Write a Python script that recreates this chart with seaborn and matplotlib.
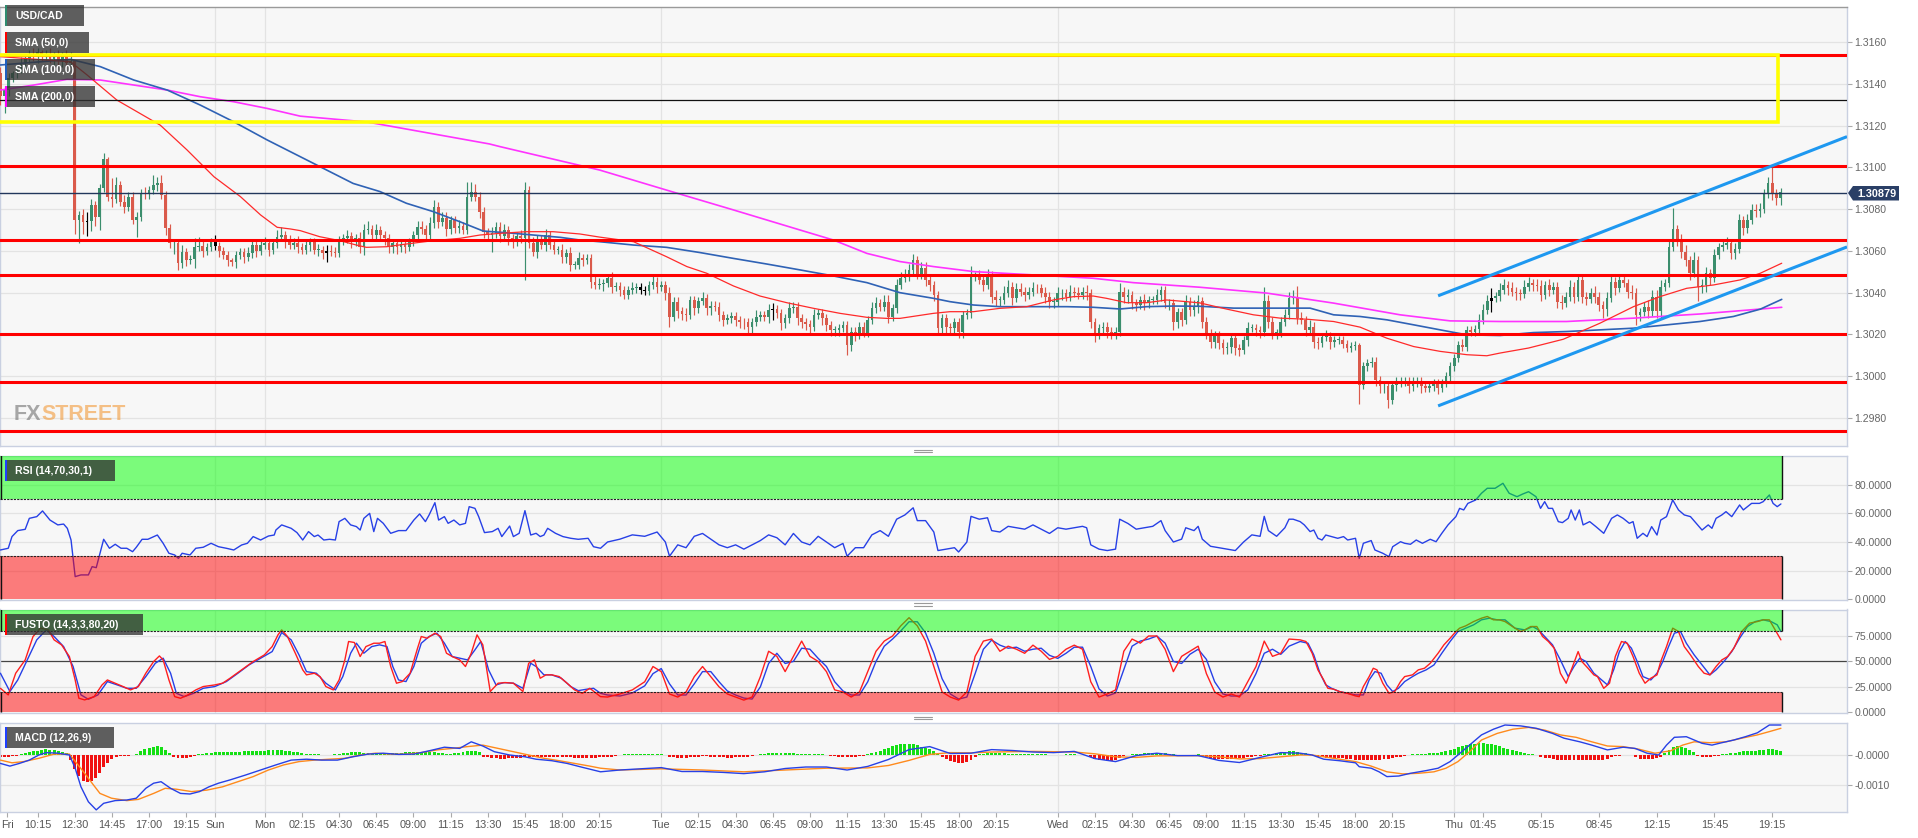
import numpy as np
import pandas as pd
import matplotlib
matplotlib.use("Agg")
import matplotlib.pyplot as plt
import seaborn as sns
from matplotlib.patches import Rectangle, Polygon

# ---------------------------------------------------------------- data
BASE = 1.3000
PIP = 0.0001
first_open_pips = 145

# closes of the 15-minute USD/CAD candles, pips above 1.3000 (bar 0 = Fri 08:00)
close_pips = [
    134,137,143,145,147,150,152,154,153,155,153,154,152,154,151,153,150,151,75,77,74,74.5,82,76,
    90,104,86,85,91.5,83.6,81.2,86,74.8,76.4,87.5,87,89,91.5,92.3,86.7,70.8,63.6,63.6,54,59.6,55.7,56,62,
    62.5,60,62,64.4,62.3,60,58,55.7,54.8,58,59.6,57.2,58.8,62.8,60,62.8,63.6,60.4,63.6,66.8,67.6,64.4,63,64,
    62,60.5,62.8,64.4,60.5,60.5,58.9,60,59.7,58.9,64.9,66,67.2,64.4,66,62,70,70.3,67.6,70,67.6,66,62,63.6,
    61.7,63.3,62,64.4,67.6,71.3,70.3,67.6,73.2,81.2,74,75.6,70.3,74.8,70.8,72,70,86,88,86,78.8,69.2,67.6,68.4,
    71.6,67.2,70,66,64.4,67.2,66,89.2,63.6,59.7,64.4,63,67.6,62.8,60.5,60.5,57.3,59,53.3,53.3,56.5,55.7,56.5,45.3,
    43.7,44,44.5,46.9,42.9,43,41.3,38.9,41.3,42,42.5,41.3,41,43.7,45.3,42.9,43.7,39.7,28.5,35.7,31,29.8,29.3,36.5,
    32.5,36,37.3,32.5,33.8,33.3,29.3,26.9,27.7,28.8,26.9,26,25.8,23.8,26.1,28.5,29.3,28.5,31.7,32,30.1,25.3,27.7,32.5,
    33.3,27.7,26.1,25,23.8,29.3,30.1,27.7,24.5,22.2,22.2,23,24.5,15,21.4,19.8,23.8,20.6,26.9,32.5,34.9,33.3,35.7,28.5,
    32.5,43.7,46.9,48.5,50.9,55.6,48.5,51.6,46.1,43.7,38.9,23,27.7,23.7,23,26.1,21.4,29.3,30.1,47.7,47.7,46.1,43.7,48.5,
    38.1,36.5,36.5,40,42.9,37.3,41.6,40.5,38.9,40.5,42.1,42,39.7,38.1,35.7,35.7,39.7,39.7,38,40.5,39.7,38.9,40.5,39.7,
    26.1,20.6,22.9,23.8,21.4,20.6,21.4,40.5,38,38.9,35,34,36.5,34.9,36.5,36.5,38.9,41.3,34.9,34.9,26.1,30.9,26.9,35.7,
    31.7,33.3,35.8,26.2,20.6,16.6,19.8,15.8,13.5,14.2,18.2,13.4,12.6,17.4,23,23,22.2,21.4,35.8,26.2,20.6,20.6,26.2,29.4,
    37.4,37.4,27.8,27,22.2,23.8,16.6,15.8,18.7,19,16.2,17.4,17.4,15.5,13.4,14.5,15,-4.1,4.7,6.3,7,-1.7,-4.9,-4.9,
    -11.3,-4.1,-3.3,-2.5,-2.5,-4.9,-3.3,-2.5,-4.9,-5.7,-4.9,-3.3,-5.7,-3.3,-0.1,4.7,8.7,15,14.2,22.2,21.4,22.5,27,31.8,
    35.8,37.4,38.2,41.4,43.7,42.1,40.5,39.7,39.5,42.9,44.5,43.7,43,38.9,43.7,41.3,42.9,35.7,35,38.1,42.9,38.1,46.1,38.1,
    37,40,38.1,34.1,32,37.3,45.3,42.1,46,44.5,40.5,40,29.3,30.9,33.3,31,38.1,31,42.9,44.5,62,70.3,65.2,59.7,
    55.7,49.3,55.7,42.9,43.5,49.3,46.9,58.1,62,62.8,63.6,58.9,61,74.8,70.8,74.8,79.6,79,80,87.5,92.3,87.5,85.2,88,
]
# wick lengths above / below the candle body, pips
upper_wick = [
    3,2,2,1,2,3,2,2,3,2,1,2,3,1,2,2,3,4,0,2,3,4,3,2,
    2,3,1,9,4,2,3,2,2,2,2,3,2,5,3,4,2,2,1,2,3,2,2,4,
    4,2,2,2,3,2,2,2,1,2,2,2,3,2,2,2,3,2,2,3,4,2,3,2,
    3,2,2,2,2,3,2,3,3,2,2,2,3,2,2,3,3,4,2,3,2,2,2,2,
    2,2,2,2,2,3,3,2,3,3,2,3,3,2,2,3,2,7,5,4,2,2,2,3,
    2,2,3,2,2,2,3,4,2,3,3,3,3,2,3,2,3,2,3,2,3,2,2,2,
    3,3,2,2,3,2,2,2,2,3,2,2,2,2,3,2,2,2,3,2,2,2,3,2,
    2,2,3,2,2,2,2,2,2,2,2,2,2,2,2,3,2,2,3,3,2,2,2,3,
    2,2,2,2,2,3,2,2,2,2,2,2,2,2,2,2,2,2,2,3,3,2,3,3,
    2,3,3,3,3,3,2,3,3,2,2,2,2,2,2,2,2,2,2,5,2,3,2,3,
    2,3,2,3,3,2,3,3,2,2,3,2,2,3,2,2,3,2,2,3,2,3,2,3,
    2,2,2,2,2,2,2,4,2,3,2,2,2,3,2,2,3,2,2,2,2,2,2,3,
    2,3,3,2,2,2,2,2,2,2,2,2,2,2,3,2,2,2,7,3,2,2,2,3,
    3,4,6,3,2,3,2,2,2,3,2,2,2,2,2,2,2,1,2,2,2,2,2,2,
    2,2,3,2,2,2,3,2,2,2,2,2,2,2,2,2,2,2,3,2,2,2,3,3,
    3,5,2,3,3,2,3,2,2,3,3,2,3,3,2,3,2,2,3,2,3,2,3,2,
    2,2,3,2,2,3,3,2,3,3,2,3,2,2,2,3,3,3,3,2,3,10,2,3,
    3,2,4,2,3,3,2,3,2,3,3,2,3,3,2,3,3,3,3,2,3,8,2,2,
]
lower_wick = [
    4,8,3,2,2,2,3,2,2,3,2,2,2,3,2,3,2,2,7,11,6,7,5,4,
    6,2,2,4,2,2,3,2,2,8,2,2,2,2,3,2,3,2,5,3,2,3,2,4,
    2,3,2,2,2,3,2,3,2,3,2,3,2,2,3,2,2,3,2,2,2,3,2,2,
    3,2,2,3,2,3,3,4,2,2,2,2,2,3,2,3,4,2,3,2,2,3,3,3,
    3,2,3,2,2,2,2,3,2,2,3,2,3,2,2,2,2,2,2,2,3,3,3,8,
    2,3,2,3,3,2,2,20,2,2,3,2,3,2,2,2,3,3,3,2,2,3,2,3,
    2,2,3,2,3,2,3,2,2,2,2,2,2,2,2,3,2,3,5,2,3,3,3,2,
    3,2,2,3,3,2,3,3,2,2,3,3,3,3,3,2,2,2,3,5,2,3,2,2,
    2,3,3,3,3,2,2,3,3,3,3,3,2,5,3,3,2,2,2,2,2,2,2,3,
    2,2,2,2,3,3,2,2,3,3,3,3,3,3,3,3,3,3,2,2,2,2,3,2,
    3,3,3,2,2,3,2,2,3,2,2,2,2,3,3,3,2,3,2,2,2,2,2,3,
    3,4,3,3,3,3,3,2,3,3,3,3,2,3,2,2,2,3,2,3,4,3,3,2,
    3,3,3,3,3,3,3,3,3,3,3,3,3,2,3,2,3,3,2,3,3,3,2,2,
    2,3,3,2,3,2,3,3,2,2,3,2,2,2,2,2,2,9,2,2,2,3,3,3,
    4,2,3,2,2,3,2,2,3,2,2,2,3,2,2,2,2,2,2,2,2,2,2,2,
    2,5,2,2,2,3,2,3,3,2,2,3,2,3,2,3,2,3,3,2,2,3,2,3,
    3,2,3,3,4,3,2,3,2,2,3,3,5,3,2,3,2,3,3,2,2,2,3,3,
    3,3,2,7,3,3,3,2,2,2,2,3,3,2,3,2,2,3,3,2,2,3,3,3,
]
doji_bars = [21, 52, 79, 155, 156, 187, 361]

# moving averages: (bar, pips above 1.3000)
sma50 = [(0,153),(17,150.5),(21,144.2),(28.2,132.2),(38.7,120.2),(45.2,108.3),(51.7,95.5),(58.1,86),(63,77.2),
         (67,71.3),(70.2,70.5),(72.6,69.7),(77.3,66.8),(82.2,64.9),(86.2,62.8),(88.6,61.7),(93.5,62),(98.3,63.3),
         (104.8,64.9),(111.2,66),(116.1,67.6),(120.9,68.4),(127.4,69.2),(133.8,69.2),(140.3,68.1),(145.1,66.6),
         (153.3,64.4),(161.3,57.2),(166.2,52.5),(171,49.3),(177.5,43.2),(183.9,38.4),(190.4,35.2),(196.9,32.5),
         (203.3,30.1),(209.8,28.2),(214.6,27.7),(217.8,27.7),(225.9,30.1),(229.9,30.9),(235.6,30.9),(242,32.5),
         (248.5,33.3),(254.9,36.5),(259.8,38.1),(264.6,38.4),(267.8,37.3),(272.7,35.2),(277.5,35.2),(282.4,36.5),
         (287.2,35.7),(290.4,35.1),(297,32.1),(303.4,29.4),(309.9,27.8),(316.3,27.3),(322.8,26.2),(329.2,23.5),
         (335.7,18.2),(342.2,14.2),(348.6,11.9),(355.1,10.3),(359.9,9.8),(363.1,11.1),(370,13.5),(378.4,17.7),
         (387.3,25.4),(395.4,33.3),(401.8,38.1),(408.3,42.1),(414.8,43.7),(421.2,46.1),(426.1,49.3),(431.3,54.1)]
sma100 = [(0,149),(17,151.7),(24.2,148.2),(32.3,141.8),(40.4,137),(48.4,129.8),(56.5,121.8),(64.6,113.1),
          (72.6,105.1),(79,98.7),(85.4,92.3),(91.9,88.4),(98.3,82.8),(104.8,78.8),(111.2,74),(116.9,69.5),
          (122.5,68.7),(129,67.6),(135.5,66.5),(140.3,65.2),(145.1,64.4),(153.3,62.8),(161.3,61.7),(169.4,59.2),
          (177.5,56.4),(185.6,53.7),(193.6,50.9),(201.7,48),(209.8,44.8),(217.8,40),(225.9,37.3),(229.9,35.7),
          (235.6,34.1),(242,33.3),(250.1,33.3),(258.2,33.3),(264.6,33),(271.1,32.2),(277.5,33.3),(284,33.6),
          (290.4,33.5),(298.6,32.6),(306.6,32.6),(317.1,32.6),(322.8,29.4),(329.2,28.6),(335.7,27),(342.2,24.6),
          (348.6,22.2),(355.1,19.8),(363.1,19.5),(371.2,20.9),(379.2,21.4),(387.3,22.2),(395.4,23),(403.5,24.6),
          (411.5,26.2),(419.6,28.6),(426.1,32.1),(431.3,36.8)]
sma200 = [(0,137),(8.1,139.4),(16.1,142.1),(24.2,141.8),(32.3,139.4),(40.4,137),(48.4,133.8),(56.5,131.4),
          (64.6,128.2),(72.6,124.5),(88.8,121.7),(118.4,111.2),(121,109.9),(145.1,98.7),(161.3,89.1),(177.5,79.6),
          (193.6,70),(201.7,65.2),(209.8,58.8),(217.8,54.9),(225.9,52.5),(235.6,50.1),(250.1,48.5),(264.6,46.9),
          (274.3,44.8),(290.4,42.6),(306.6,39.8),(322.8,35),(338.9,29.4),(351,26.5),(363.1,26.2),(379.2,26.2),
          (395.4,27.8),(411.5,29.8),(431.3,33)]

# drawn levels
support_resistance = [1.31538, 1.31008, 1.30651, 1.30487, 1.30204, 1.29970, 1.29740]
black_level = 1.31322
last_price = 1.30879
zone_low, zone_high, zone_end = 1.31218, 1.31538, 430.3
channel_x = [348.1, 447.1]
channel_upper = [1.30385, 1.31147]
channel_lower = [1.29858, 1.30619]

# RSI (14)
rsi = [(0,34.4),(1.9,35.6),(2.8,43.8),(4.2,48),(6.0,48.9),(7.0,56.6),(8.8,57.8),(10.2,61.8),(12.0,55.4),(13.9,52),
       (15.3,52.6),(16.2,49.6),(17.1,41.4),(18.1,15.7),(19.5,16.9),(21.3,16.9),(22.2,22.7),(23.2,22),(23.9,29.7),
       (25.0,41.9),(26.4,35.6),(27.8,38.4),(29.2,35.6),(30.6,35.6),(32.0,33.2),(32.9,36.3),(34.3,41.9),(35.7,41.9),
       (38.0,44.9),(39.4,39.1),(40.8,32.1),(42.2,30.9),(43.1,28.5),(44.0,32.1),(45.9,30.9),(47.3,35.6),(49.1,36.3),
       (51.0,39.1),(52.8,36.7),(54.7,35.6),(56.5,34.4),(58.4,37.9),(59.8,39.1),(61.2,43.8),(63.0,41.4),(64.9,44.2),
       (66.3,44.9),(66.7,48.4),(68.1,52),(70.4,49.6),(71.8,46.6),(73.2,41.4),(74.6,47.3),(76.0,43.8),(76.9,44.9),
       (78.3,41.4),(79.7,41.9),(81.1,41.4),(82.0,54.3),(83.4,56.6),(84.8,52),(86.2,50.8),(87.1,48.4),(88.0,56.6),
       (89.4,60.1),(90.4,47.3),(91.3,56.6),(92.7,53.1),(94.5,46.1),(96.4,48),(98.2,48),(100.1,55.4),(101.5,59.7),
       (102.9,54.3),(103.8,59),(105.2,67.6),(106.1,55.4),(107.5,57.8),(108.4,53.1),(109.8,55.4),(111.2,52),
       (112.6,53.1),(113.5,64.8),(114.9,63.6),(115.8,57.8),(117.2,46.6),(119.1,47.3),(120.5,49.6),(121.4,43.8),
       (123.3,51.2),(124.2,43.8),(125.6,46.1),(127.0,62),(128.4,44.9),(129.7,46.1),(130.7,43.8),(131.6,44.9),
       (132.5,49.6),(134.4,46.1),(136.2,43.8),(138.1,42.6),(139.9,41.9),(142.3,42.6),(143.6,36.7),(145.3,35.6),
       (147,40),(150,42),(153,45),(156,44),(159,47),(161,40),(162,30),(164,38),(166,36),(168,44),(170,46),(172,42),
       (174,38),(176,36),(178,38),(180,35),(182,38),(184,41),(186,45),(188,43),(190,38),(192,46),(194,40),(196,38),
       (198,44),(200,40),(202,36),(204,39),(205,30),(207,36),(209,36),(211,45),(213,48),(215,44),(217,56),(219,59),
       (221,64),(222,55),(224,55),(226,47),(227,34),(229,35),(231,36),(232,33),(234,40),(235,58),(237,56),(239,57),
       (240,48),(242,47),(244,51),(246,50),(248,49),(250,52),(252,49),(254,46),(256,50),(258,49),(260,50),(262,51),
       (263,50),(264,38),(266,35),(268,34),(270,35),(271,56),(273,53),(275,49),(277,50),(279,51),(281,55),(282,48),
       (284,40),(286,42),(287,50),(289,48),(290,51),(291,42),(293,37),(295,36),(297,35),(299,34),(301,40),(303,45),
       (305,44),(306,58),(307,48),(309,44),(311,50),(312,56),(313,56),
       (314.7,54.3),(315.7,52),(317.1,47.3),(318.0,48.4),(319.0,42.6),(320.0,41.4),(320.9,44.9),(322.3,43.8),
       (323.8,42.6),(325.2,43.8),(326.2,41.4),(328.1,42.6),(329.0,28.5),(330.0,39.1),(331.9,41),(332.8,34.4),
       (334.7,32.1),(336.2,29.7),(337.1,36.7),(339.0,40.2),(340.0,39.1),(341.4,38.4),(342.8,41.4),(344.3,39.1),
       (346.2,41.9),(347.6,40.2),(349.0,46.1),(350.5,52),(352.4,57.8),(353.3,63.6),(354.3,62.5),(355.3,67.1),
       (357.2,69.5),(358.6,74.2),(360.0,77.7),(361.9,77.7),(363.8,81.2),(365.3,74.2),(367.2,71.8),(368.6,73.7),
       (370.0,75.3),(371.8,71.8),(372.9,63.6),(373.9,68.3),(374.8,63.6),(375.8,63.6),(377.2,54.3),(378.2,53.6),
       (379.6,56.6),(380.3,62.5),(381.3,55.4),(382.3,62.5),(383.2,52),(384.8,54.3),(386.3,50.8),(388.2,46.1),
       (390.1,56.6),(391.5,59),(392.9,56.6),(394.4,53.1),(395.3,54.3),(396.3,42.6),(397.7,46.1),(398.7,43.8),
       (399.8,50.8),(401.1,44.9),(402.0,55.4),(403.4,57.8),(404.9,69.5),(406.3,62.5),(407.7,59),(409.2,57.8),
       (410.6,53.1),(412.0,48.4),(413.5,52),(414.4,49.6),(415.4,56.6),(416.8,59),(417.8,61.3),(419.2,57.8),
       (421.1,66),(422.0,62.5),(424.0,67.1),(425.9,67.1),(426.8,68.3),(428.3,73),(429.2,67.1),(430.2,64.8),(431.1,66.7)]

# Full stochastic (14,3,3): fast (red) and slow (blue)
stoch_fast = [(0,23.6),(1.9,17.1),(3.7,38.4),(6.0,51.5),(7.9,74.5),(9.7,82.7),(11.6,81),(13.0,71.2),(14.8,66.3),
       (16.7,54.8),(18.1,31.8),(19.0,13.8),(20.4,12.2),(22.7,15.4),(24.6,26.9),(25.9,31.8),(27.8,28.6),(29.7,25.3),
       (31.5,22),(33.4,25.3),(35.2,38.4),(37.1,49.9),(38.5,55.4),(39.4,51.5),(40.8,31.8),(42.2,15.4),(43.6,13.8),
       (45.4,17.1),(47.3,22),(49.1,25.3),(51.9,26.9),(53.8,28.6),(55.6,33.5),(58.4,41.7),(61.2,49.9),(63.9,56.4),
       (65.8,64.6),(67.2,76.1),(68.1,81),(69.5,74.5),(71.4,58.1),(73.2,41.7),(74.1,36.8),(76.0,38.4),(77.4,35.1),
       (78.8,25.3),(80.6,22),(82.0,31.8),(83.4,51.5),(84.3,69.6),(85.7,68.6),(87.1,54.8),(88.5,64.6),(90.4,67.9),
       (91.8,67.9),(93.1,69.6),(94.5,45),(95.9,28.6),(97.3,30.2),(99.2,38.4),(101.0,63),(101.9,74.5),(103.3,72.8),
       (105.2,77.8),(106.6,74.5),(108.0,58.1),(109.4,54.8),(111.2,51.5),(112.6,45),(114.0,58.1),(115.4,76.1),
       (116.8,66.3),(118.6,20.4),(120.5,28.6),(122.3,29.2),(124.2,28.6),(126.5,20.4),(127.9,48.2),(129.3,51.5),
       (130.7,33.5),(132.1,36.8),(133.5,36.8),(135.3,35.1),(137.2,28.6),(139.0,22),(140.9,18.7),(142.7,23.6),
       (145.3,15.4),
       (147,15),(150,18),(153,22),(156,30),(158,45),(160,40),(162,18),(164,15),(166,20),(168,35),(170,45),(172,35),
       (174,25),(176,18),(178,15),(180,12),(182,15),(184,35),(186,60),(188,55),(190,40),(192,55),(194,70),(196,55),
       (198,50),(200,40),(202,22),(204,20),(206,15),(208,20),(210,40),(212,60),(214,70),(216,75),(218,85),(220,93),
       (222,85),(224,70),(226,45),(228,20),(230,15),(232,12),(234,20),(236,55),(238,70),(240,72),(242,60),(244,65),
       (246,62),(248,58),(250,66),(252,60),(254,52),(256,55),(258,62),(260,66),(262,62),(264,30),(266,15),(268,18),
       (270,22),(272,60),(274,72),(276,68),(278,75),(280,75),(282,62),(284,40),(286,55),(288,60),(290,65),(292,38),
       (294,20),(296,15),(298,18),(300,15),(302,30),(304,45),(306,70),(308,55),(310,58),(312,72),
       (314.7,71.2),(316.1,69.6),(317.6,58.1),(319.0,41.7),(320.4,31.8),(321.4,23.6),(322.8,22.7),(324.2,20.4),
       (326.1,18.7),(328.1,16.1),(329.0,15.4),(330.0,25.3),(331.4,35.1),(332.4,43.3),(333.3,41.7),(334.7,28.6),
       (336.2,18.7),(337.6,20.4),(339.0,30.2),(340.0,35.1),(341.9,36.8),(343.3,41.7),(344.8,43.3),(346.2,48.2),
       (348.1,58.1),(349.5,66.3),(351.0,72.8),(352.4,79.4),(353.3,82.7),(354.8,85),(356.7,89.2),(358.6,92.5),
       (360.0,94.2),(361.5,90.9),(362.9,90.9),(364.3,89.2),(366.7,82.7),(368.1,79.4),(369.1,81),(370.5,84.3),
       (372.0,84.3),(373.4,74.5),(374.8,69.6),(376.2,63),(377.7,38.4),(379.1,28.6),(380.5,43.3),(382.0,59.7),
       (382.9,49.9),(384.4,43.3),(385.8,36.8),(386.7,35.1),(388.2,23.6),(389.6,28.6),(391.0,54.8),(392.5,69.6),
       (393.9,67.9),(395.3,54.8),(396.8,38.4),(398.2,28.6),(399.6,33.5),(401.1,36.8),(402.0,49.9),(403.4,64.6),
       (404.9,82.7),(406.3,79.4),(407.7,64.6),(409.2,56.4),(411.1,45),(412.5,38.4),(413.9,36.8),(415.4,45),
       (416.8,51.5),(418.2,54.8),(419.7,63),(421.6,79.4),(423.5,87.6),(425.4,89.2),(426.8,90.9),(428.3,90.9),
       (429.7,81),(431.1,71.2)]
stoch_slow = [(0,38.4),(2.3,20.4),(4.2,31.8),(6.5,51.5),(8.8,71.2),(11.1,81),(13.0,74.5),(15.3,64.6),(17.6,45),
       (19.5,17.1),(21.3,12.8),(23.6,17.1),(25.9,30.2),(28.3,26.9),(30.6,23.6),(32.9,23.6),(35.2,35.1),(37.5,48.2),
       (39.4,53.2),(41.2,38.4),(42.6,18.7),(44.5,15.4),(46.8,18.7),(49.1,23.6),(51.9,25.3),(54.7,30.2),(57.5,38.4),
       (60.2,46.6),(63.0,53.2),(65.8,59.7),(68.1,78.4),(70.4,71.2),(72.3,56.4),(74.1,40),(76.5,38.4),(78.8,28.6),
       (81.1,22),(82.9,35.1),(84.8,58.1),(86.2,67.9),(88.0,58.1),(89.9,64.6),(91.8,66.3),(93.6,64.6),(95.0,45),
       (96.4,31.8),(98.2,30.2),(100.1,45),(101.9,67.9),(103.8,74.5),(105.7,77.8),(107.5,67.9),(109.4,54.8),
       (111.2,53.2),(113.1,51.5),(114.9,61.4),(116.3,69.6),(118.2,41.7),(120.0,26.9),(121.9,29.2),(124.2,28.6),
       (126.5,23.6),(128.4,48.2),(129.7,45),(131.6,36.8),(133.5,36.8),(135.8,33.5),(138.1,25.3),(139.9,21.3),
       (141.8,22.6),(143.6,23.6),(145.3,18.7),
       (147,17),(150,16),(153,19),(156,26),(158,38),(160,43),(162,28),(164,17),(166,17),(168,28),(170,40),(172,40),
       (174,30),(176,21),(178,17),(180,14),(182,13),(184,25),(186,48),(188,58),(190,48),(192,50),(194,63),(196,62),
       (198,53),(200,45),(202,30),(204,21),(206,17),(208,17),(210,30),(212,50),(214,65),(216,72),(218,80),(220,89),
       (222,89),(224,78),(226,58),(228,33),(230,18),(232,13),(234,15),(236,38),(238,62),(240,71),(242,66),(244,63),
       (246,64),(248,60),(250,62),(252,63),(254,56),(256,53),(258,58),(260,64),(262,64),(264,45),(266,23),(268,16),
       (270,19),(272,42),(274,65),(276,70),(278,72),(280,75),(282,68),(284,50),(286,48),(288,57),(290,62),(292,52),
       (294,30),(296,18),(298,16),(300,16),(302,22),(304,38),(306,58),(308,62),(310,57),(312,65),
       (314.7,69.6),(316.6,67.9),(318.0,56.4),(319.5,38.4),(320.9,26.9),(322.3,23.6),(324.2,20.4),(326.1,18.7),
       (328.1,17.1),(330.0,17.1),(331.4,31.8),(332.8,40),(334.3,38.4),(335.7,26.9),(337.1,20.4),(338.5,23.6),
       (340.0,30.2),(341.9,35.1),(343.3,38.4),(345.2,41.7),(347.1,46.6),(349.0,58.1),(351.0,69.6),(352.9,79.4),
       (354.8,82.7),(356.7,86),(358.6,90.9),(360.5,92.5),(362.4,90.9),(364.3,90.9),(366.7,82.7),(369.1,81),
       (371.0,84.3),(372.4,81),(373.9,74.5),(375.8,66.3),(377.7,51.5),(379.6,35.1),(381.0,45),(382.4,53.2),
       (383.9,49.9),(385.8,38.4),(387.7,31.8),(389.1,26.9),(390.6,41.7),(392.0,59.7),(393.4,69.6),(394.9,63),
       (396.3,49.9),(397.7,35.1),(399.6,31.8),(401.1,38.4),(402.5,49.9),(403.9,64.6),(405.3,77.8),(406.8,79.4),
       (408.2,67.9),(410.1,56.4),(412.0,46.6),(413.9,36.8),(415.4,41.7),(417.3,49.9),(419.2,59.7),(421.1,72.8),
       (423.0,84.3),(424.9,89.2),(426.8,90.9),(428.7,89.2),(430.2,86),(431.1,79.4)]

# MACD (12,26,9), units of 0.0001
macd_line = [(0,-2.8),(2.3,-3.7),(4.6,-2.8),(7.0,-1.7),(9.3,0),(11.1,0.8),(13.9,0.6),(16.7,0),(18.1,-4.4),
       (19.5,-10.6),(21.3,-15.6),(23.2,-18.3),(25.0,-16.1),(27.8,-15.2),(30.6,-15),(32.9,-14.4),(35.2,-11.1),
       (37.1,-9.4),(38.9,-8.9),(41.2,-11.1),(43.6,-12.8),(45.9,-13),(48.2,-12.2),(50.5,-10.6),(52.8,-9.4),
       (55.6,-8.3),(59.3,-6.7),(63.0,-5),(66.7,-3.3),(70.4,-1.7),(74.1,-1.4),(77.8,-1.7),(81.6,-1.7),(85.3,-0.6),
       (89.0,0.3),(92.7,0.6),(96.4,0.2),(100.1,0.3),(103.8,1.4),(107.5,2.6),(111.2,2.2),(114.0,4.4),(116.8,3),
       (119.6,1.1),(123.3,0),(127.0,-0.6),(129.7,-1.4),(133.5,-1.9),(137.2,-2.8),(140.9,-4.1),(145.3,-5.6),
       (150,-5),(160,-4.2),(165,-5.5),(170,-5.5),(175,-5.8),(180,-6.2),(185,-5.6),(190,-4.5),(195,-4.0),(200,-4.0),
       (205,-5.0),(210,-3.8),(215,-1.5),(220,1.8),(225,2.8),(230,0.5),(235,0.6),(240,1.8),(245,1.5),(250,1.0),
       (255,0.8),(260,1.2),(265,-1.2),(270,-2.2),(275,-0.2),(280,0.6),(285,-0.2),(290,-0.2),(295,-1.8),(300,-2.5),
       (305,-0.8),(310,0.8),
       (314.7,0.6),(317.6,0),(320.4,-1.4),(324.2,-1.9),(328.1,-2.6),(329.0,-3.9),(331.9,-4.4),(333.8,-5.6),
       (335.7,-7.2),(338.6,-7),(341.4,-6.1),(345.2,-5.2),(348.1,-4.4),(351.0,-2.2),(352.9,0),(355.7,3.3),
       (358.6,6.7),(361.5,8.6),(364.3,10),(368.1,9.7),(371.9,8.9),(375.8,7.2),(378.6,5.6),(382.4,4.4),(385.3,3.3),
       (389.1,1.7),(392.9,2.6),(395.8,2.2),(398.7,0.6),(401.5,0),(403.4,3.3),(405.3,5.9),(408.2,6.1),(410.1,5),
       (412.0,3.9),(414.4,3.3),(416.8,4.1),(419.7,5),(422.5,6.1),(425.4,7.4),(428.3,10),(431.1,10)]
macd_signal = [(0,-1.7),(2.8,-2.6),(5.6,-2.2),(9.3,-1.1),(13.0,0.3),(16.7,0.3),(18.5,-2.8),(20.4,-6.1),
       (22.2,-9.4),(24.1,-12.8),(26.9,-14.4),(30.6,-15.2),(33.4,-14.8),(37.1,-12.8),(39.9,-11.1),(42.6,-11.4),
       (46.3,-12.2),(50.0,-11.7),(53.8,-10.6),(57.5,-8.9),(61.2,-7.2),(64.9,-5),(68.6,-3.3),(72.3,-2.2),(76.0,-1.7),
       (79.7,-1.4),(83.4,-1.1),(87.1,0),(90.8,0.6),(94.5,0.3),(98.2,0.3),(101.9,0.8),(105.7,1.7),(109.4,2.2),
       (113.1,2.8),(116.8,3.3),(120.5,2.2),(124.2,1.1),(127.9,0),(131.6,-1.1),(135.3,-1.9),(139.0,-2.8),
       (142.7,-3.7),(145.3,-4.4),
       (150,-5.0),(160,-4.6),(170,-5.0),(180,-5.6),(190,-5.0),(200,-4.4),(210,-4.3),(215,-3.5),(220,-1.8),(225,0.2),
       (230,0.8),(235,0.7),(240,1.0),(250,1.2),(260,1.0),(265,0.4),(270,-0.6),(275,-0.8),(280,-0.3),(290,-0.2),
       (295,-0.6),(300,-1.3),(305,-1.2),(310,-0.6),
       (314.7,0),(317.6,0),(320.4,-0.6),(324.2,-1.4),(328.1,-2.2),(331.9,-3.7),(335.7,-5.6),(339.5,-6.3),
       (343.3,-6.1),(347.1,-5.6),(350.0,-4.4),(352.9,-2.2),(355.7,1.1),(358.6,5),(362.4,7.2),(366.2,8.6),
       (370.0,9.2),(373.9,8.3),(377.7,6.7),(381.5,5.9),(385.3,4.4),(389.1,3),(392.9,2.8),(396.8,1.9),(400.6,0.6),
       (404.4,1.4),(407.3,3.3),(410.1,4.4),(413.9,4.1),(417.8,4.4),(421.6,5.6),(425.4,6.7),(428.3,7.8),(431.1,8.9)]
macd_hist = [
    -0.8,-0.7,-0.6,-0.4,-0.2,
    0.3,0.6,0.9,1.2,1.5,1.7,1.9,1.8,1.6,1.4,1.1,0.6,
    -1.5,-4.5,-7.0,-8.5,-9.0,-8.8,-7.5,-6.0,-4.0,-2.5,-1.2,
    -0.6,-0.4,-0.3,-0.2,-0.1,
    0.5,1.2,2.0,2.5,2.8,3.0,2.6,1.6,0.6,
    -0.6,-0.9,-1.0,-0.9,-0.7,-0.4,
    0.2,0.4,0.6,0.8,0.9,1.0,1.0,1.0,1.1,1.1,1.1,1.2,1.2,1.2,1.3,1.4,1.5,1.6,1.7,1.7,
    1.6,1.5,1.3,1.1,0.9,0.7,0.5,0.4,0.3,0.2,0.1,0.1,0.1,
    0.3,0.5,0.6,0.8,0.9,1.0,0.9,0.8,0.8,0.7,0.6,0.5,
    0.4,0.5,0.6,0.7,0.8,0.9,1.0,1.0,1.1,1.1,1.0,0.9,0.9,0.8,0.7,0.5,0.4,0.6,0.8,1.0,1.3,1.5,1.4,1.0,
    -0.5,-0.8,-1.0,-1.1,-1.2,-1.2,-1.1,-1.0,-1.0,-0.9,-0.6,
    -0.5,-0.6,-0.7,-0.8,-0.8,-0.8,-0.8,-0.8,-0.8,-0.8,-0.8,-0.9,-0.9,-0.9,-0.9,-0.9,-0.9,-0.8,
    -0.8,-0.7,-0.5,-0.3,-0.1,0.2,0.4,0.5,0.5,0.4,0.3,0.3,0.4,0.4,0.3,0.1,-0.5,-0.8,-1.0,-1.0,
    -0.9,-0.7,-0.6,-0.5,-0.4,-0.4,-0.5,-0.6,-0.7,-0.8,-0.9,-0.9,-0.8,-0.7,-0.6,-0.5,-0.3,-0.1,0.2,0.4,
    0.6,0.7,0.8,0.8,0.7,0.6,0.6,0.5,0.4,0.3,0.2,0.2,0.3,0.2,0.0,-0.2,-0.4,-0.5,-0.6,-0.8,
    -0.7,-0.6,-0.4,-0.2,0.2,0.6,1.0,1.5,2.0,2.5,3.0,3.4,3.6,3.8,3.8,3.6,3.2,2.8,2.4,2.0,
    1.4,0.4,-0.6,-1.4,-2.0,-2.4,-2.6,-2.5,-2.2,-1.6,-0.6,0.2,0.5,0.7,0.8,0.7,0.6,0.6,0.5,0.5,
    0.4,0.4,0.3,0.3,0.3,0.3,0.2,0.2,0.1,0.0,0.1,0.1,0.2,0.2,0.2,0.1,0.1,0.0,-0.6,-1.2,
    -1.6,-1.8,-1.9,-1.9,-1.7,-0.9,-0.4,-0.1,0.2,0.4,0.5,0.6,0.6,0.6,0.7,0.8,0.6,0.5,0.2,0.1,
    0.0,0.1,0.1,0.1,0.2,-0.3,-0.7,-1.0,-1.2,-1.3,-1.4,-1.4,-1.3,-1.2,-1.1,-0.9,-0.7,-0.5,-0.4,-0.3,
    0.3,0.4,0.5,0.6,0.8,1.0,1.2,1.2,1.1,
    0.8,0.6,0.3,
    -0.4,-0.6,-0.8,-0.9,-1.0,-1.0,-1.1,-1.1,-1.2,-1.4,-1.6,-1.7,-1.7,-1.7,-1.6,-1.6,-1.5,-1.4,-1.2,-1.0,
    -0.7,-0.5,-0.3,-0.1,
    0.2,0.3,0.4,0.5,0.6,0.7,0.8,1.0,1.3,1.7,2.1,2.6,3.0,3.3,3.6,3.8,3.9,3.9,3.8,3.6,3.3,3.0,2.5,2.0,1.6,1.2,
    0.9,0.6,0.4,0.2,0.1,
    -0.6,-0.9,-1.1,-1.3,-1.5,-1.6,-1.7,-1.7,-1.6,-1.6,-1.5,-1.5,-1.6,-1.7,-1.8,-1.6,-1.2,-0.8,-0.4,
    -0.2,-0.1,-0.1,-0.1,
    -0.8,-1.2,-1.4,-1.4,-1.3,-1.1,-0.6,
    0.8,1.8,2.6,3.0,2.8,2.2,1.6,0.9,
    -0.3,-0.6,-0.7,-0.6,-0.4,-0.2,
    0.3,0.5,0.6,0.8,1.0,1.2,1.3,1.4,1.5,1.6,1.8,2.1,2.0,1.8,1.5,
]

# time axis
tick_bars = [1.6, 9, 18, 27, 36, 45, 52, 64, 73, 82, 91, 100, 109, 118, 127, 136, 145,
             160, 169, 178, 187, 196, 205, 214, 223, 232, 241,
             256, 265, 274, 283, 292, 301, 310, 319, 328, 337,
             352, 359, 373, 387, 401, 415, 429]
tick_text = ['Fri', '10:15', '12:30', '14:45', '17:00', '19:15', 'Sun',
             'Mon', '02:15', '04:30', '06:45', '09:00', '11:15', '13:30', '15:45', '18:00', '20:15',
             'Tue', '02:15', '04:30', '06:45', '09:00', '11:15', '13:30', '15:45', '18:00', '20:15',
             'Wed', '02:15', '04:30', '06:45', '09:00', '11:15', '13:30', '15:45', '18:00', '20:15',
             'Thu', '01:45', '05:15', '08:45', '12:15', '15:45', '19:15']
day_bars = [52, 64, 160, 256, 352]
price_ticks = [1.2980, 1.3000, 1.3020, 1.3040, 1.3060, 1.3080, 1.3100, 1.3120, 1.3140, 1.3160]

# ---------------------------------------------------------------- style
sns.set_theme(style="white")
plt.rcParams['font.family'] = ['Liberation Sans', 'DejaVu Sans']

W, H = 1918, 838
fig = plt.figure(figsize=(W / 100, H / 100), dpi=100)
fig.patch.set_facecolor('white')

XL = (-0.1, 447.1)
FILL_END = 431.4
GRID = '#e3e3e3'
FRAME = '#c9d0e1'
LBL = '#666666'
UP, DN = '#3b8e6d', '#da5a4b'


def fx(x):
    return x / W


def fy(y):
    return 1 - y / H


def add_panel(top, bottom):
    ax = fig.add_axes([0, fy(bottom), 1847 / W, (bottom - top) / H])
    ax.set_facecolor('#f7f7f7')
    for s in ax.spines.values():
        s.set_color(FRAME)
        s.set_linewidth(1.0)
    ax.set_xlim(*XL)
    ax.tick_params(axis='x', bottom=False, labelbottom=False, top=False)
    ax.tick_params(axis='y', left=False, labelleft=False, right=True, labelright=True,
                   length=3.5, width=0.8, color='#aaaaaa', labelsize=7.6, labelcolor=LBL, pad=2)
    for d in day_bars:
        ax.axvline(d, color=GRID, lw=0.9, zorder=0)
    return ax


def pts_frame(pts, scale=1.0, offset=0.0):
    a = np.array(pts, dtype=float)
    return pd.DataFrame({'x': a[:, 0], 'y': offset + a[:, 1] * scale})


def draw_line(ax, pts, color, lw, z, scale=1.0, offset=0.0):
    sns.lineplot(data=pts_frame(pts, scale, offset), x='x', y='y', ax=ax, color=color,
                 linewidth=lw, estimator=None, sort=True, zorder=z)
    ax.set_xlabel('')
    ax.set_ylabel('')


# ---------------------------------------------------------------- main price panel
ax = add_panel(7, 446)
ax.spines['top'].set_color('#9a9a9a')
ax.set_ylim(1.296660, 1.317676)
ax.set_yticks(price_ticks)
ax.set_yticklabels([f'{t:.4f}' for t in price_ticks])
for t in price_ticks:
    ax.axhline(t, color=GRID, lw=0.9, zorder=0)

n = min(len(close_pips), len(upper_wick), len(lower_wick))
bars = np.arange(n)
c = BASE + np.array(close_pips[:n]) * PIP
o = np.r_[BASE + first_open_pips * PIP, c[:-1]]
hi = np.maximum(o, c) + np.array(upper_wick[:n]) * PIP
lo = np.minimum(o, c) - np.array(lower_wick[:n]) * PIP
cols = np.where(c >= o, UP, DN).astype(object)
for d in doji_bars:
    if d < n:
        cols[d] = '#000000'
body = np.maximum(np.abs(c - o), 0.35 * PIP)
ax.vlines(bars, lo, hi, colors=list(cols), lw=0.85, zorder=3)
ax.bar(bars, body, bottom=np.minimum(o, c), width=0.64, color=list(cols), linewidth=0, zorder=4)

draw_line(ax, sma200, '#ff33ff', 1.2, 5, PIP, BASE)
draw_line(ax, sma100, '#2f62b5', 1.2, 5, PIP, BASE)
draw_line(ax, sma50, '#ff2a2a', 0.9, 5, PIP, BASE)

for lvl in support_resistance:
    ax.axhline(lvl, color='#ff0000', lw=2.2, zorder=6)
ax.axhline(black_level, color='#111111', lw=0.9, zorder=6)
ax.axhline(last_price, color='#22375c', lw=1.0, zorder=6)
ax.add_patch(Rectangle((-6, zone_low), zone_end + 6, zone_high - zone_low, fill=False,
                       ec='#ffff00', lw=2.6, zorder=7))
ax.plot(channel_x, channel_upper, color='#1e98f0', lw=2.2, zorder=8, solid_capstyle='butt')
ax.plot(channel_x, channel_lower, color='#1e98f0', lw=2.2, zorder=8, solid_capstyle='butt')

# ---------------------------------------------------------------- RSI panel
ar = add_panel(456, 599.5)
ar.set_ylim(-0.35, 100.35)
ar.set_yticks([0, 20, 40, 60, 80])
ar.set_yticklabels([f'{v:.4f}' for v in [0, 20, 40, 60, 80]])
for v in [20, 40, 60, 80]:
    ar.axhline(v, color=GRID, lw=0.9, zorder=0)
draw_line(ar, rsi, '#2740e6', 1.0, 4)
ar.add_patch(Rectangle((XL[0], 70), FILL_END - XL[0], 31, color='#00ff00', alpha=0.5, lw=0, zorder=5))
ar.add_patch(Rectangle((XL[0], 0), FILL_END - XL[0], 30, color='#ff0000', alpha=0.5, lw=0, zorder=5))
ar.hlines([70, 30], XL[0], FILL_END, colors='#222222', linestyles=(0, (2, 1)), lw=0.8, zorder=6)
ar.vlines([FILL_END], 70, 101, colors='#111111', lw=1.0, zorder=6)
ar.vlines([FILL_END], 0, 30, colors='#111111', lw=1.0, zorder=6)
ar.vlines([0.1], 70, 101, colors='#111111', lw=1.0, zorder=6)
ar.vlines([0.1], 0, 30, colors='#111111', lw=1.0, zorder=6)

# ---------------------------------------------------------------- Stochastic panel
ast = add_panel(609.5, 713)
ast.set_ylim(-0.69, 101.05)
ast.set_yticks([0, 25, 50, 75])
ast.set_yticklabels([f'{v:.4f}' for v in [0, 25, 50, 75]])
for v in [25, 75]:
    ast.axhline(v, color=GRID, lw=0.9, zorder=0)
ast.axhline(50, color='#444444', lw=0.9, zorder=1)
draw_line(ast, stoch_slow, '#2740e6', 1.0, 4)
draw_line(ast, stoch_fast, '#ff1f1f', 1.0, 4)
ast.add_patch(Rectangle((XL[0], 80), FILL_END - XL[0], 22, color='#00ff00', alpha=0.5, lw=0, zorder=5))
ast.add_patch(Rectangle((XL[0], 0), FILL_END - XL[0], 20, color='#ff0000', alpha=0.5, lw=0, zorder=5))
ast.hlines([80, 20], XL[0], FILL_END, colors='#222222', linestyles=(0, (2, 1)), lw=0.8, zorder=6)
ast.vlines([FILL_END], 80, 102, colors='#111111', lw=1.0, zorder=6)
ast.vlines([FILL_END], 0, 20, colors='#111111', lw=1.0, zorder=6)
ast.vlines([0.1], 80, 102, colors='#111111', lw=1.0, zorder=6)
ast.vlines([0.1], 0, 20, colors='#111111', lw=1.0, zorder=6)

# ---------------------------------------------------------------- MACD panel
am = add_panel(722.7, 812)
am.set_ylim(-0.00190, 0.001077)
am.set_yticks([-0.001, 0.0])
am.set_yticklabels(['-0.0010', '-0.0000'])
for v in [-0.001, 0.0]:
    am.axhline(v, color=GRID, lw=0.9, zorder=0)
hv = np.array(macd_hist, dtype=float)
hb = np.arange(len(hv))
hcol = ['#14e014' if v >= 0 else '#f01010' for v in hv]
am.bar(hb, hv * PIP, width=0.72, color=hcol, linewidth=0, zorder=2)
draw_line(am, macd_signal, '#ff8a1c', 1.0, 4, PIP)
draw_line(am, macd_line, '#2740e6', 1.0, 4, PIP)
am.set_xticks(tick_bars)
am.set_xticklabels(tick_text)
am.tick_params(axis='x', bottom=True, labelbottom=True, length=3.5, width=0.8, color='#aaaaaa',
               labelsize=7.8, labelcolor='#555555', pad=2)

for a in (ax, ar, ast, am):
    a.set_xlim(*XL)

# ---------------------------------------------------------------- overlays (figure pixels)
def box(x0, y0, x1, y1, face, alpha=1.0, z=20):
    fig.add_artist(Rectangle((fx(x0), fy(y1)), (x1 - x0) / W, (y1 - y0) / H,
                             transform=fig.transFigure, facecolor=face, alpha=alpha, lw=0, zorder=z))

labels = [('USD/CAD', 5, 5, 84, 26, '#2e8b6f'),
          ('SMA (50,0)', 5, 32, 89, 53, '#ff0000'),
          ('SMA (100,0)', 5, 59, 95, 80, '#1f5fbf'),
          ('SMA (200,0)', 5, 86, 95, 107, '#ff00ff'),
          ('RSI (14,70,30,1)', 5, 460, 115, 481, '#1f3fff'),
          ('FUSTO (14,3,3,80,20)', 5, 614, 143, 635, '#ff0000'),
          ('MACD (12,26,9)', 5, 727, 114, 748, '#1f3fff')]
for text, x0, y0, x1, y1, bar_col in labels:
    box(x0, y0, x1, y1, '#333333', 0.78)
    box(x0, y0, x0 + 2, y1, bar_col, 1.0, 21)
    fig.text(fx(15), fy((y0 + y1) / 2 + 0.5), text, color='white', fontsize=7.6, fontweight='bold',
             va='center', ha='left', zorder=22)

# last price tag
fig.add_artist(Polygon([(fx(1848), fy(193)), (fx(1853), fy(186)), (fx(1899), fy(186)),
                        (fx(1899), fy(200.5)), (fx(1853), fy(200.5))], closed=True,
                       transform=fig.transFigure, facecolor='#2a3f66', lw=0, zorder=20))
fig.text(fx(1876.5), fy(193.5), f'{last_price:.5f}', color='white', fontsize=7.8,
         fontweight='bold', ha='center', va='center', zorder=21)

# watermark (two colours, placed side by side)
wm_fx = fig.text(fx(14), fy(414), 'FX', color='#707070', alpha=0.6, fontsize=15.5, fontweight='bold',
                 ha='left', va='center', zorder=15)
fig.canvas.draw()
bb = wm_fx.get_window_extent(renderer=fig.canvas.get_renderer())
fig.text(bb.x1 / W, fy(414), 'STREET', color='#f29a3a', alpha=0.6, fontsize=15.5, fontweight='bold',
         ha='left', va='center', zorder=15)

# panel resize handles
for yy in (451, 604.5, 718):
    for dy in (-1.2, 1.2):
        fig.add_artist(plt.Line2D([fx(914), fx(932)], [fy(yy + dy), fy(yy + dy)],
                                  transform=fig.transFigure, color='#9a9a9a', lw=0.8, zorder=20))

fig.savefig('out.png', dpi=100, facecolor='white')
